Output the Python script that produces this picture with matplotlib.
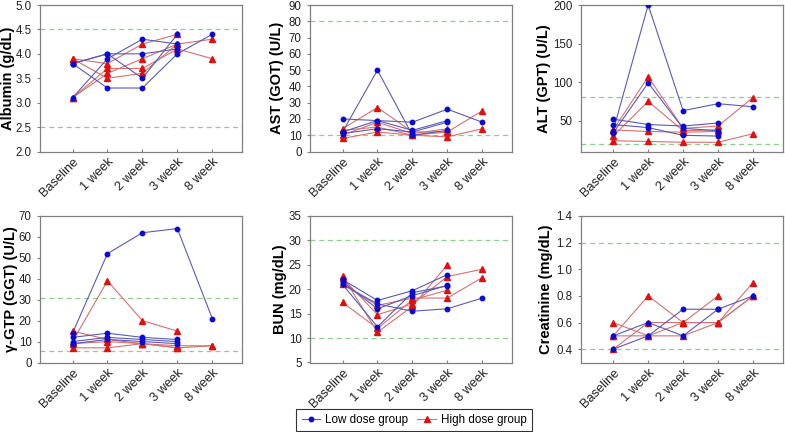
import numpy as np
import matplotlib
matplotlib.use("Agg")
import matplotlib.pyplot as plt
from matplotlib.lines import Line2D

plt.rcParams['font.family'] = ['Liberation Sans', 'DejaVu Sans']

weeks = ["Baseline", "1 week", "2 week", "3 week", "8 week"]
nan = np.nan

# Albumin (g/dL)
alb_low = [[3.8, 4.0, 3.5, 4.4, nan],
           [3.8, 3.3, 3.3, 4.0, 4.4],
           [3.1, 3.9, 4.3, 4.2, nan],
           [3.8, 4.0, 4.0, 4.1, nan]]
alb_high = [[3.9, 3.5, 3.6, 4.2, 4.3],
            [3.9, 3.8, 4.2, 4.4, nan],
            [3.1, 3.7, 3.7, 4.1, 3.9],
            [3.1, 3.6, 3.9, 4.2, nan]]
# AST (GOT) (U/L)
ast_low = [[12, 50, 10, 13, nan],
           [20, 19, 18, 26, 18],
           [12, 19, 13, 19, nan],
           [11, 14, 12, 18, nan]]
ast_high = [[14, 27, 12, 12, 25],
            [10, 18, 11, 14, nan],
            [13, 15, 10, 9, 14],
            [8, 12, 10, 12, nan]]
# ALT (GPT) (U/L)
alt_low = [[37, 200, 63, 72, 68],
           [34, 99, 40, 37, nan],
           [52, 45, 43, 47, nan],
           [45, 41, 31, 30, nan]]
alt_high = [[38, 107, 40, 43, 80],
            [30, 75, 37, 38, nan],
            [38, 36, 35, 36, nan],
            [24, 23, 22, 22, 33]]
# gamma-GTP (GGT) (U/L)
ggt_low = [[14, 52, 62, 64, 21],
           [12, 14, 12, 11, nan],
           [10, 12, 11, 10, nan],
           [9, 11, 10, 9, nan]]
ggt_high = [[10, 39, 20, 15, nan],
            [15, 11, 9, 7, 8],
            [9, 10, 9, 8, 8],
            [7, 7, 9, 7, nan]]
# BUN (mg/dL)
bun_low = [[22.0, 17.7, 19.7, 23.0, nan],
           [21.5, 16.0, 18.7, 20.8, nan],
           [21.0, 12.3, 19.3, 20.7, nan],
           [21.0, 17.0, 15.5, 16.0, 18.2]]
bun_high = [[22.8, 11.2, 16.5, 25.0, nan],
            [22.3, 14.8, 17.0, 22.6, 24.1],
            [21.0, 16.7, 18.2, 18.2, 22.4],
            [17.3, 12.0, 17.8, 19.8, nan]]
# Creatinine (mg/dL)
cre_low = [[0.5, 0.6, 0.5, 0.7, 0.8],
           [0.4, 0.5, 0.7, 0.7, nan]]
cre_high = [[0.5, 0.8, 0.6, 0.8, nan],
            [0.6, 0.5, 0.5, 0.6, 0.9],
            [0.4, 0.6, 0.6, 0.6, 0.8],
            [0.5, 0.5, 0.6, 0.6, 0.8]]

panels = [
    ("Albumin (g/dL)", alb_low, alb_high, (2.0, 5.0), np.arange(2.0, 5.01, 0.5), (2.5, 4.5), "{:.1f}"),
    ("AST (GOT) (U/L)", ast_low, ast_high, (0, 90), np.arange(0, 91, 10), (10, 80), "{:.0f}"),
    ("ALT (GPT) (U/L)", alt_low, alt_high, (10, 200), [50, 100, 150, 200], (20, 81), "{:.0f}"),
    ("γ-GTP (GGT) (U/L)", ggt_low, ggt_high, (0, 70), np.arange(0, 71, 10), (5.6, 31), "{:.0f}"),
    ("BUN (mg/dL)", bun_low, bun_high, (5, 35), np.arange(5, 36, 5), (10, 30), "{:.0f}"),
    ("Creatinine (mg/dL)", cre_low, cre_high, (0.3, 1.4), np.arange(0.4, 1.41, 0.2), (0.4, 1.2), "{:.1f}"),
]

W, H = 785, 432
fig = plt.figure(figsize=(W / 100, H / 100), dpi=100)

lefts = [40, 310, 580.7]
tops = [5, 216]
label_right = [15, 284, 551, 18, 287, 553]
ax_w = 202
ax_h = 146.5

blue_line = '#5a5ab8'
blue_mk = '#0a0ad0'
red_line = '#d87070'
red_mk = '#e01010'
grid_green = '#8fce8f'
spine_col = '#808080'

x = np.arange(len(weeks))
for i, (lab, low, high, ylim, yt, refs, fmt) in enumerate(panels):
    r, c = divmod(i, 3)
    l = lefts[c]
    t = tops[r]
    ax = fig.add_axes([l / W, 1 - (t + ax_h) / H, ax_w / W, ax_h / H])
    for ref in refs:
        ax.axhline(ref, color=grid_green, ls=(0, (4, 3)), lw=0.9, zorder=1)
    for s in high:
        ax.plot(x, s, color=red_line, lw=0.8, zorder=2)
        ax.plot(x, s, ls='none', marker='^', ms=3.8, color=red_mk, mec=red_mk, zorder=4)
    for s in low:
        ax.plot(x, s, color=blue_line, lw=0.8, zorder=3)
        ax.plot(x, s, ls='none', marker='o', ms=3.2, color=blue_mk, mec=blue_mk, zorder=5)
    ax.set_xlim(-0.93, 4.85)
    ax.set_ylim(*ylim)
    ax.set_yticks(yt)
    ax.set_yticklabels([fmt.format(v) for v in yt], fontsize=8.3, color='#222222')
    ax.set_xticks(x)
    ax.set_xticklabels(weeks, rotation=45, ha='right', rotation_mode='anchor', fontsize=9.3, color='#222222')
    ax.tick_params(axis='x', direction='in', length=2.5, color=spine_col, pad=3)
    ax.tick_params(axis='y', direction='out', length=2.5, color=spine_col, pad=3.5)
    for sp in ax.spines.values():
        sp.set_color(spine_col)
        sp.set_linewidth(0.9)
    ax.set_ylabel(lab, fontsize=10.5, fontweight='bold')
    ax.yaxis.set_label_coords((label_right[i] - l) / ax_w, 0.5)

handles = [
    Line2D([], [], color=blue_line, lw=0.8, marker='o', ms=3.2, mfc=blue_mk, mec=blue_mk),
    Line2D([], [], color=red_line, lw=0.8, marker='^', ms=3.8, mfc=red_mk, mec=red_mk),
]
leg = fig.legend(handles, ["Low dose group", "High dose group"], ncol=2,
                 loc='lower center', bbox_to_anchor=(414 / W, 1 / H),
                 fontsize=8.4, frameon=True, fancybox=False, edgecolor='black',
                 handlelength=1.6, handletextpad=0.4, columnspacing=0.8,
                 borderpad=0.45, borderaxespad=0.0)
leg.get_frame().set_linewidth(0.8)

fig.savefig("out.png", dpi=100)
